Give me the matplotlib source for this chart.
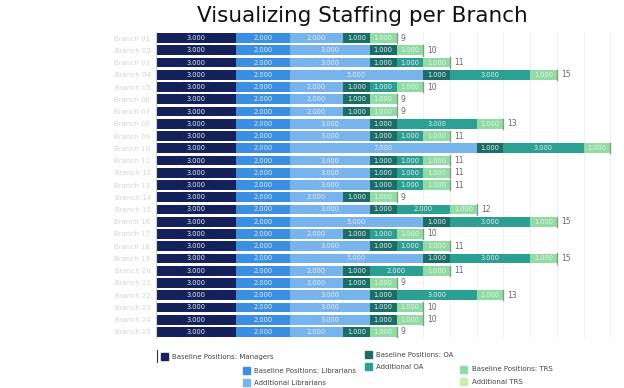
import numpy as np
import matplotlib.pyplot as plt
from matplotlib.patches import Rectangle

# названия филиалов на исходнике размыты — подставлены условные
branches = ['Branch 01', 'Branch 02', 'Branch 03', 'Branch 04', 'Branch 05',
            'Branch 06', 'Branch 07', 'Branch 08', 'Branch 09', 'Branch 10',
            'Branch 11', 'Branch 12', 'Branch 13', 'Branch 14', 'Branch 15',
            'Branch 16', 'Branch 17', 'Branch 18', 'Branch 19', 'Branch 20',
            'Branch 21', 'Branch 22', 'Branch 23', 'Branch 24', 'Branch 25']

managers = [3] * 25
librarians = [2] * 25
add_librarians = [2, 3, 3, 5, 2, 2, 2, 3, 3, 7, 3, 3, 3, 2, 3, 5, 2, 3, 5, 2, 2, 3, 3, 3, 2]
oa = [1] * 25
add_oa = [0, 0, 1, 3, 1, 0, 0, 3, 1, 3, 1, 1, 1, 0, 2, 3, 1, 1, 3, 2, 0, 3, 0, 0, 0]
trs = [1] * 25
add_trs = [0] * 25

series = [
    ('Baseline Positions: Managers', managers, '#14215b'),
    ('Baseline Positions: Librarians', librarians, '#3a8fe2'),
    ('Additional Librarians', add_librarians, '#78b4ec'),
    ('Baseline Positions: OA', oa, '#1b6e66'),
    ('Additional OA', add_oa, '#2b9f91'),
    ('Baseline Positions: TRS', trs, '#91dca2'),
    ('Additional TRS', add_trs, '#c8eeb0'),
]

fig = plt.figure(figsize=(6.24, 3.88), dpi=100)
ax = fig.add_axes([156 / 624, 1 - 338 / 388, (613 - 156) / 624, (338 - 32) / 388])

y = np.arange(len(branches))
left = np.zeros(len(branches))
for name, vals, color in series:
    vals = np.array(vals, dtype=float)
    ax.barh(y, vals, left=left, height=0.8, color=color, zorder=2)
    for yi, (l, v) in enumerate(zip(left, vals)):
        if v > 0:
            ax.text(l + v / 2, yi, f'{v:.3f}', ha='center', va='center',
                    fontsize=4.8, color='#e8eef8', zorder=3)
    left += vals

totals = left
for yi, t in enumerate(totals):
    ax.plot([t, t], [yi - 0.42, yi + 0.42], color='#8a9a8a', lw=1.0, zorder=3)
    ax.text(t + 0.15, yi, f'{int(t)}', ha='left', va='center', fontsize=5.5,
            color='#666666', clip_on=True, zorder=3)

ax.set_xlim(0, 17.1)
ax.set_ylim(len(branches) - 0.5, -0.5)
ax.set_yticks(y)
ax.set_yticklabels(branches, fontsize=5, color='#d4d4d4')
ax.set_xticks(np.arange(0, 18, 1))
ax.tick_params(axis='x', length=0, labelbottom=False)
ax.tick_params(axis='y', length=0, pad=4)
ax.grid(axis='x', color='#efefef', lw=0.6, zorder=0)
for s in ['top', 'right', 'bottom']:
    ax.spines[s].set_visible(False)
ax.spines['left'].set_color('#cfcfcf')
ax.spines['left'].set_linewidth(0.8)

fig.text(362 / 624, 1 - 16 / 388, 'Visualizing Staffing per Branch', ha='center',
         va='center', fontsize=15.5, color='#111111')

# легенда разбросана по низу — рисуем вручную
legend_pos = [
    (161, 353, 172, 357),
    (243, 367, 254, 371),
    (243, 379, 254, 383),
    (365, 351, 376, 355),
    (365, 363, 376, 367),
    (460, 366, 472, 369),
    (460, 378, 472, 382),
]
for (name, _, color), (sx, sy, tx, ty) in zip(series, legend_pos):
    fig.patches.append(Rectangle((sx / 624, 1 - (sy + 7) / 388), 7 / 624, 7 / 388,
                                 transform=fig.transFigure, color=color))
    fig.text(tx / 624, 1 - ty / 388, name, ha='left', va='center', fontsize=5,
             color='#444444')
fig.lines.append(plt.Line2D([157 / 624, 157 / 624], [1 - 350 / 388, 1 - 362 / 388],
                            transform=fig.transFigure, color='#333333', lw=0.8))

plt.savefig('out.png', dpi=100)
